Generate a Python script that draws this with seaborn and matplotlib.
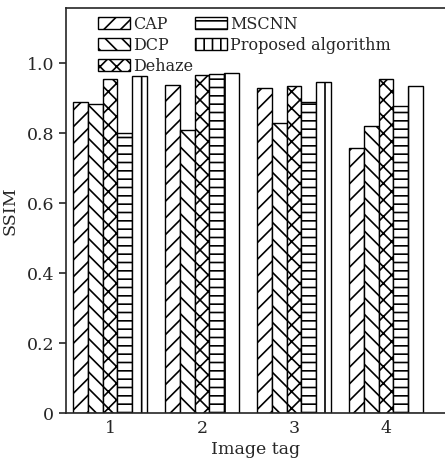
import pandas as pd
import matplotlib
matplotlib.use("Agg")
import matplotlib.pyplot as plt
import seaborn as sns

# ------------------------------
# SSIM values
# ------------------------------
tags = ["1", "2", "3", "4"]
methods = ["CAP", "DCP", "Dehaze", "MSCNN", "Proposed algorithm"]
cap = [0.889, 0.937, 0.928, 0.758]
dcp = [0.883, 0.809, 0.828, 0.820]
dehaze = [0.954, 0.966, 0.935, 0.953]
mscnn = [0.800, 0.969, 0.889, 0.877]
proposed = [0.963, 0.971, 0.945, 0.934]
hatches = ["//", "\\\\", "xx", "--", "|"]
legend_hatches = ["//", "\\\\", "xx", "--", "||"]

rows = []
for name, vals in zip(methods, [cap, dcp, dehaze, mscnn, proposed]):
    for t, v in zip(tags, vals):
        rows.append({"tag": t, "ssim": v, "method": name})
df = pd.DataFrame(rows)

sns.set_style("ticks")
plt.rcParams["font.family"] = ["DejaVu Serif"]
plt.rcParams["hatch.linewidth"] = 1.2
plt.rcParams["hatch.color"] = "black"

fig = plt.figure(figsize=(4.45, 4.66), dpi=100)
ax = fig.add_axes([0.148, 0.1137, 0.852, 0.869])

sns.barplot(data=df, x="tag", y="ssim", hue="method", hue_order=methods,
            palette=["white"] * 5, edgecolor="black", linewidth=1.0,
            width=0.8, ax=ax)

for cont, h in zip(ax.containers, hatches):
    for bar in cont:
        bar.set_hatch(h)

ax.set_xlim(-0.48, 3.64)
ax.set_ylim(0, 1.157)
ax.set_yticks([0, 0.2, 0.4, 0.6, 0.8, 1.0])
ax.set_yticklabels(["0", "0.2", "0.4", "0.6", "0.8", "1.0"])
ax.tick_params(axis="y", direction="out", length=5, width=1.2, labelsize=12.5)
ax.tick_params(axis="x", length=0, labelsize=12.5, pad=5)
ax.set_xlabel("Image tag", fontsize=12.5, labelpad=3)
ax.set_ylabel("SSIM", fontsize=12.5, labelpad=6)
ax.spines["right"].set_visible(False)
for s in ["left", "bottom", "top"]:
    ax.spines[s].set_linewidth(1.2)

handles, labels = ax.get_legend_handles_labels()
for hd, h in zip(handles, legend_hatches):
    hd.set_hatch(h)
ax.legend(handles, labels, ncol=2, loc="upper left", bbox_to_anchor=(0.06, 1.005),
          frameon=False, fontsize=11.5, handlelength=2.0, handleheight=0.85,
          handletextpad=0.2, columnspacing=0.1, labelspacing=0.25,
          borderaxespad=0.2)

fig.savefig("out.png", dpi=100)
